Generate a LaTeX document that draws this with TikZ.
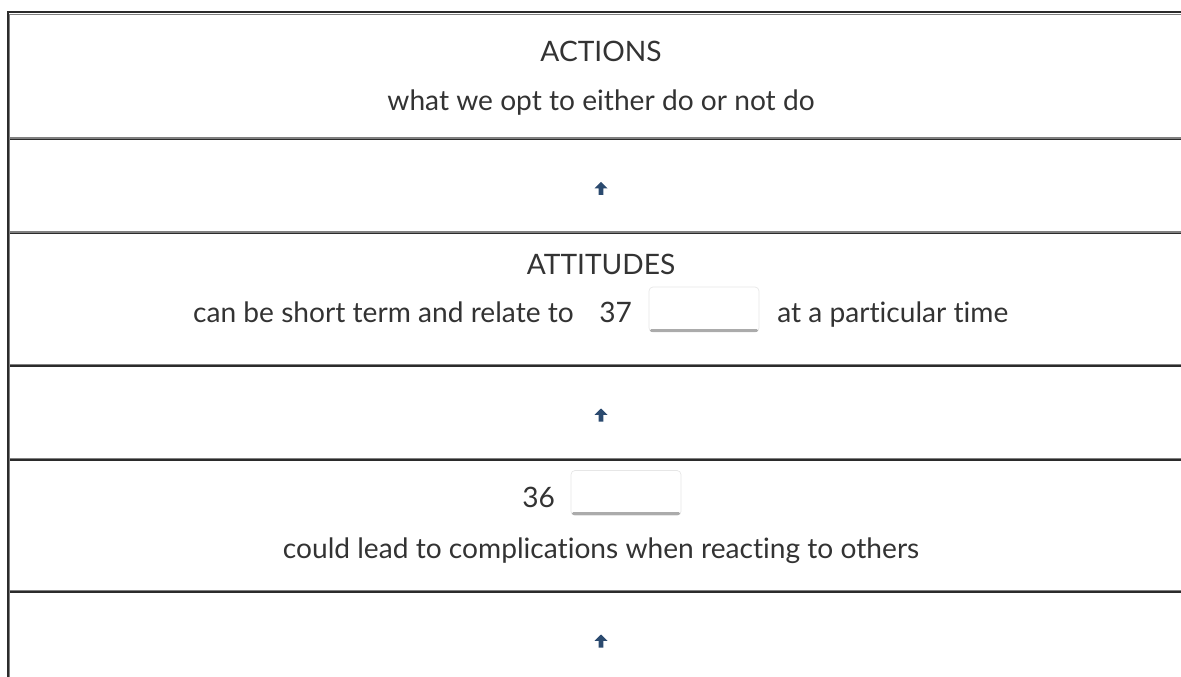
\documentclass[tikz,border=0pt]{standalone}
\usepackage{fontspec}
\setmainfont{Lato}[Ligatures=NoCommon]
\usetikzlibrary{positioning}

\definecolor{inkgray}{HTML}{333333}
\definecolor{ruledark}{HTML}{2B2B2B}
\definecolor{rulegray}{HTML}{808080}
\definecolor{arrownavy}{HTML}{2B4A6F}
\definecolor{boxedge}{HTML}{E6E6E6}
\definecolor{boxshade}{HTML}{ABABAB}

\begin{document}
\begin{tikzpicture}[x=0.75pt,y=-0.75pt,
  rowtext/.style={anchor=base,text=inkgray,inner sep=0pt,font=\fontsize{21.1}{25}\selectfont},
  blankbox/.style={draw=boxedge,fill=white,line width=0.5pt,rounded corners=3pt,
    minimum width=82.5pt,minimum height=33.75pt,inner sep=0pt},
  darkrule/.style={draw=ruledark,line width=1pt},
  greyrule/.style={draw=rulegray,line width=1pt},
  uparrow/.style={fill=arrownavy}]
\useasboundingbox (0,0) rectangle (1181,677);

% table frame
\draw[darkrule,line width=1.3pt] (7.7,12.3) -- (1181,12.3);
\draw[greyrule] (9.3,14.6) -- (1181,14.6);
\foreach \y in {139.5,233.5,366,460,592}
{
  \draw[greyrule] (9.3,\y-1.4) -- (1181,\y-1.4);
  \draw[darkrule] (9.3,\y) -- (1181,\y);
}
\draw[darkrule,line width=1.5pt] (7.7,11.4) -- (7.7,677);
\draw[greyrule] (9.3,14) -- (9.3,677);

% actions
\node[rowtext] (actions) at (601,62) {ACTIONS};
\node[rowtext] (actionsnote) at (601,111) {what we opt to either do or not do};

% arrows between rows
\coordinate (up1) at (601,188.5);
\coordinate (up2) at (601,415);
\coordinate (up3) at (601,641);
\foreach \c in {up1,up2,up3}
  \fill[uparrow] (\c) ++(0,-6.5) -- ++(6.5,6.3) -- ++(-4.2,0) -- ++(0,6.7)
    -- ++(-4.6,0) -- ++(0,-6.7) -- ++(-4.2,0) -- cycle;

% attitudes
\node[rowtext] (attitudes) at (601,275) {ATTITUDES};
\node[rowtext,anchor=base east] (attnote) at (574,322) {can be short term and relate to};
\node[rowtext,anchor=base west] (num37) at (599,322) {37};
\node[blankbox] (box37) at (704,309.5) {};
\draw[boxshade,line width=2.2pt,line cap=round] ([xshift=2pt,yshift=1.6pt]box37.south west) -- ([xshift=-2pt,yshift=1.6pt]box37.south east);
\node[rowtext,anchor=base west] (attend) at (777,322) {at a particular time};

% 36
\node[rowtext,anchor=base west] (num36) at (522,507) {36};
\node[blankbox] (box36) at (626,493) {};
\draw[boxshade,line width=2.2pt,line cap=round] ([xshift=2pt,yshift=1.6pt]box36.south west) -- ([xshift=-2pt,yshift=1.6pt]box36.south east);
\node[rowtext] (note36) at (601,558) {could lead to complications when reacting to others};
\end{tikzpicture}
\end{document}
